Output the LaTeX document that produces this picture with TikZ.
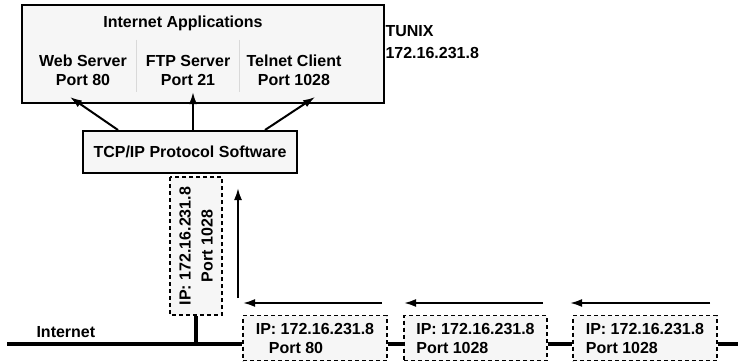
\documentclass[tikz,border=0pt]{standalone}
\usepackage{fontspec}
\setmainfont{Liberation Sans}
\usetikzlibrary{positioning,arrows.meta}

\tikzset{
  appbox/.style={shape=rectangle, draw, fill=gray!7, line width=2pt, inner sep=0pt},
  pktbox/.style={shape=rectangle, draw, fill=gray!7, line width=1.7pt, inner sep=0pt,
    dash pattern=on 4pt off 3pt},
  lbl/.style={align=center, font=\fontsize{16}{19}\selectfont\bfseries},
  wire/.style={line width=3.2pt},
  arr/.style={-{Latex[length=12pt,width=8pt]}, line width=2pt}
}

\begin{document}
\begin{tikzpicture}[x=1pt, y=-1pt, font=\fontsize{16}{18}\selectfont\bfseries]
\useasboundingbox (0,0) rectangle (738,361);

% host TUNIX
\node [appbox, minimum width=362pt, minimum height=98pt] (apps) at (203,54) {};
\node [lbl] (title) at (183,23) {Internet Applications};
\node [lbl] (web) at (83,70) {Web Server\\Port 80};
\node [lbl] (ftp) at (188,70) {FTP Server\\Port 21};
\node [lbl] (telnet) at (294,70) {Telnet Client\\Port 1028};
\draw [gray!30, line width=1pt] (136,40) -- (136,92);
\draw [gray!30, line width=1pt] (239,40) -- (239,92);
\node [lbl, align=left, anchor=west, font=\fontsize{16}{22}\selectfont\bfseries] (tunix) at (382,42) {TUNIX\\172.16.231.8};

\node [appbox, minimum width=214pt, minimum height=42pt] (tcp) at (190,152) {TCP/IP Protocol Software};

\coordinate (webin) at (70,97);
\coordinate (ftpin) at (193,92);
\coordinate (telin) at (315,97);
\draw [arr] ([xshift=-72pt]tcp.north) -- (webin);
\draw [arr] ([xshift=3pt]tcp.north) -- (ftpin);
\draw [arr] ([xshift=75pt]tcp.north) -- (telin);

% packet going up
\node [pktbox, rotate=90, minimum width=138pt, minimum height=52pt, lbl,
  font=\fontsize{16}{22}\selectfont\bfseries] (up) at (196,246) {IP: 172.16.231.8\\Port 1028};

% the wire and the packets on it
\node [lbl] (net) [anchor=west] at (33,332) {Internet};
\node [pktbox, minimum width=144pt, minimum height=45pt, lbl, align=left] (p1) at (315,338) {IP: 172.16.231.8\\\hspace*{13pt}Port 80};
\node [pktbox, minimum width=143pt, minimum height=45pt, lbl, align=left] (p2) at (475.5,338) {IP: 172.16.231.8\\Port 1028};
\node [pktbox, minimum width=144pt, minimum height=45pt, lbl, align=left] (p3) at (645,338) {IP: 172.16.231.8\\Port 1028};

\coordinate (wl) at (7,344);
\coordinate (wr) at (738,344);
\coordinate (tap) at (196,344);
\draw [wire] (wl) -- (p1.west |- wl);
\draw [wire] (p1.east |- wl) -- (p2.west |- wl);
\draw [wire] (p2.east |- wl) -- (p3.west |- wl);
\draw [wire] (p3.east |- wl) -- (wr);
\draw [wire] (up.west) -- (tap);

\coordinate (a1s) at (382,303);
\coordinate (a1e) at (243,303);
\coordinate (a2s) at (543,303);
\coordinate (a2e) at (404,303);
\coordinate (a3s) at (710,303);
\coordinate (a3e) at (570,303);
\draw [arr] (a1s) -- (a1e);
\draw [arr] (a2s) -- (a2e);
\draw [arr] (a3s) -- (a3e);

\coordinate (ups) at (238,298);
\coordinate (upe) at (238,188);
\draw [arr] (ups) -- (upe);
\end{tikzpicture}
\end{document}
